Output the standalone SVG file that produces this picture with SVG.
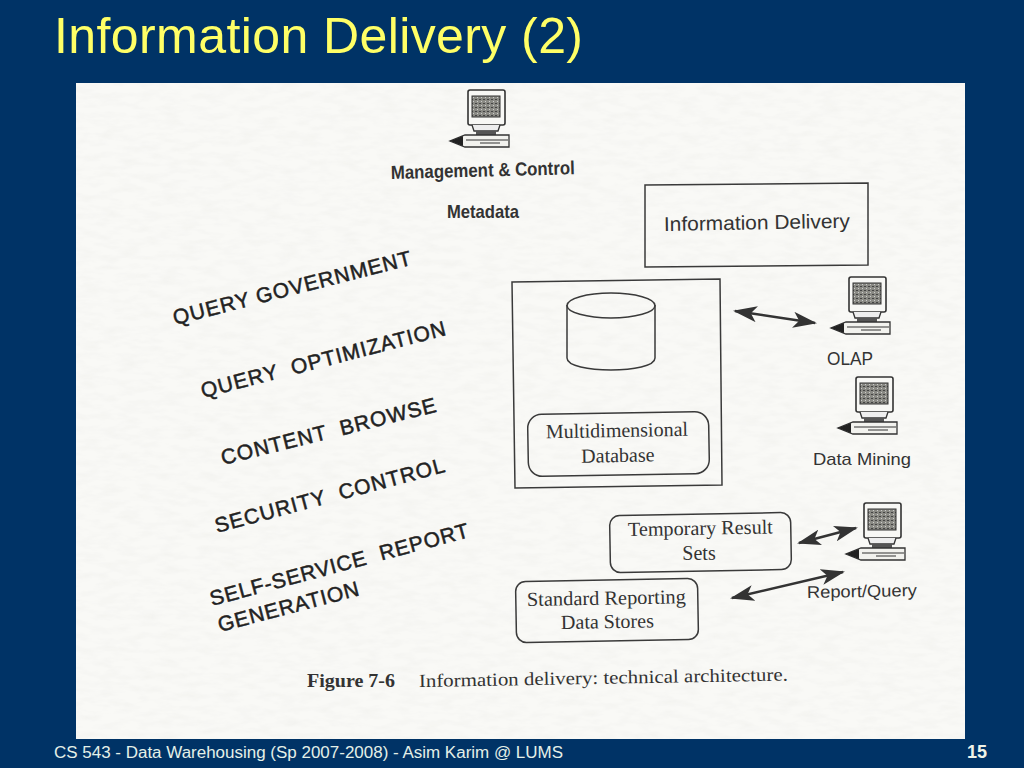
<svg xmlns="http://www.w3.org/2000/svg" width="1024" height="768" viewBox="0 0 1024 768">
<style>
.ln{fill:none;stroke:#3a3a3a;stroke-width:1.500}
.sans{font-family:"Liberation Sans",Arial,sans-serif;fill:#333}
.serif{font-family:"Liberation Serif","Times New Roman",serif;fill:#333}
.caps{font-size:21px;fill:#222;stroke:#222;stroke-width:.5}
.conn{stroke:#333;stroke-width:2.500;fill:none;marker-start:url(#ah);marker-end:url(#ah)}
</style>
<defs>
<marker id="ah" viewBox="0 0 24 16" refX="22" refY="8" markerWidth="24" markerHeight="16" markerUnits="userSpaceOnUse" orient="auto-start-reverse"><path d="M0 0L24 8L0 16L6 8Z" fill="#333"/></marker>
<filter id="paper" x="0" y="0" width="100%" height="100%"><feTurbulence type="fractalNoise" baseFrequency="0.05 0.15" numOctaves="3" seed="7"/><feColorMatrix values="0 0 0 0 .84 0 0 0 0 .84 0 0 0 0 .82 .9 0 0 0 -.36"/><feComposite in2="SourceGraphic" operator="in"/><feMerge><feMergeNode in="SourceGraphic"/><feMergeNode/></feMerge></filter>
<pattern id="scr" width="4" height="4" patternUnits="userSpaceOnUse"><rect width="4" height="4" fill="#8a8a84"/><rect x="1" y="1" width="2" height="1" fill="#444"/><rect x="3" y="3" width="1" height="1" fill="#ccc"/></pattern>
<symbol id="pc" overflow="visible">
<rect x="18" y="0" width="37" height="35" rx="2" fill="#f8f8f5" stroke="#333" stroke-width="1.600"/>
<rect x="22" y="6" width="28" height="21" fill="url(#scr)" stroke="#333"/>
<path d="M22 35L24 41H48L50 35" fill="#eee" stroke="#333" stroke-width="1.300"/>
<path d="M26 41H46V46H26Z" fill="#555"/>
<path d="M15 45H59V57H15L0 51Z" fill="#f2f2ee" stroke="#333" stroke-width="1.300"/>
<path d="M0 51L13 46V56Z" fill="#222"/>
<path d="M16 50H58M30 53H50" stroke="#333" stroke-width="1.200" fill="none"/>
</symbol>
</defs>
<rect id="slide-bg" width="1024" height="768" fill="#003366"/>
<text id="title" x="54" y="53" font-family="Liberation Sans,Arial,sans-serif" font-size="50" fill="#ffff66" textLength="529" lengthAdjust="spacing">Information Delivery (2)</text>
<rect id="scan" x="76" y="83" width="889" height="656" fill="#f9f9f6" filter="url(#paper)"/>

<g id="connectors">
<path class="conn" d="M735 311L815 323"/>
<path class="conn" d="M799 543L856 528"/>
<path class="conn" d="M732 598L843 572"/>
</g>

<g id="pc-management"><use href="#pc" x="450" y="90"/></g>
<g id="label-management"><text class="sans" x="391" y="179" font-size="19" font-weight="bold" textLength="184" lengthAdjust="spacingAndGlyphs" transform="rotate(-1.500 391 179)">Management &amp; Control</text></g>
<g id="label-metadata"><text class="sans" x="447" y="218" font-size="19" font-weight="bold" textLength="72" lengthAdjust="spacingAndGlyphs">Metadata</text></g>

<g id="info-delivery">
<path class="ln" d="M645 185L868 183L868 265L645 267Z"/>
<text class="sans" x="664" y="231" font-size="20" textLength="186" lengthAdjust="spacingAndGlyphs" transform="rotate(-1 664 231)">Information Delivery</text>
</g>

<g id="warehouse-box">
<path class="ln" d="M512 282L720 279L722 485L515 488Z"/>
</g>
<g id="cylinder">
<path class="ln" d="M567 305V358C567 374 655 374 655 358V305"/>
<ellipse class="ln" cx="611" cy="305.500" rx="44" ry="12.500"/>
</g>
<g id="mdb">
<rect class="ln" x="528" y="413" width="181" height="62" rx="14" transform="rotate(-1 618 444)"/>
<text class="serif" x="617" y="437" font-size="20" text-anchor="middle" transform="rotate(-1 617 437)">Multidimensional</text>
<text class="serif" x="618" y="462" font-size="20" text-anchor="middle" transform="rotate(-1 618 462)">Database</text>
</g>

<g id="pc-olap"><use href="#pc" x="831" y="277"/><text class="sans" x="827" y="365" font-size="18" textLength="46" lengthAdjust="spacingAndGlyphs">OLAP</text></g>
<g id="pc-mining"><use href="#pc" x="838" y="377"/><text class="sans" x="813" y="465" font-size="17" textLength="98" lengthAdjust="spacingAndGlyphs">Data Mining</text></g>
<g id="pc-report"><use href="#pc" x="846" y="503"/><text class="sans" x="807" y="598" font-size="17" textLength="110" lengthAdjust="spacingAndGlyphs" transform="rotate(-1 807 598)">Report/Query</text></g>

<g id="temp-results">
<rect class="ln" x="610" y="514" width="181" height="57" rx="10" transform="rotate(-1 700 542)"/>
<text class="serif" x="628" y="536" font-size="20" textLength="145" lengthAdjust="spacingAndGlyphs" transform="rotate(-1 628 536)">Temporary Result</text>
<text class="serif" x="699" y="560" font-size="20" text-anchor="middle">Sets</text>
</g>
<g id="std-reporting">
<rect class="ln" x="516" y="580" width="182" height="61" rx="10" transform="rotate(-1 607 610)"/>
<text class="serif" x="527" y="606" font-size="20" textLength="159" lengthAdjust="spacingAndGlyphs" transform="rotate(-1 527 606)">Standard Reporting</text>
<text class="serif" x="561" y="629" font-size="20" textLength="93" lengthAdjust="spacingAndGlyphs" transform="rotate(-1 561 629)">Data Stores</text>
</g>

<g id="slanted-labels">
<text class="sans caps" transform="translate(175 325) rotate(-14.300)" textLength="245">QUERY GOVERNMENT</text>
<text class="sans caps" transform="translate(203 398) rotate(-14.500)" textLength="252" xml:space="preserve">QUERY  OPTIMIZATION</text>
<text class="sans caps" transform="translate(223 465) rotate(-14)" textLength="221" xml:space="preserve">CONTENT  BROWSE</text>
<text class="sans caps" transform="translate(217 533) rotate(-15)" textLength="237" xml:space="preserve">SECURITY  CONTROL</text>
<text class="sans caps" transform="translate(212 606) rotate(-15)" textLength="267" xml:space="preserve">SELF-SERVICE  REPORT</text>
<text class="sans caps" transform="translate(220 632) rotate(-14.700)" textLength="145">GENERATION</text>
</g>

<g id="caption">
<text class="serif" x="307" y="687" font-size="18" font-weight="bold" textLength="88" lengthAdjust="spacingAndGlyphs">Figure 7-6</text>
<text class="serif" x="419" y="687" font-size="18.500" textLength="369" lengthAdjust="spacingAndGlyphs" transform="rotate(-1 419 687)">Information delivery: technical architecture.</text>
</g>

<text id="footer" x="54" y="758" font-family="Liberation Sans,Arial,sans-serif" font-size="16" fill="#e4f0e8" textLength="509" lengthAdjust="spacingAndGlyphs">CS 543 - Data Warehousing (Sp 2007-2008) - Asim Karim @ LUMS</text>
<text id="page" x="967" y="758" font-family="Liberation Sans,Arial,sans-serif" font-size="18" font-weight="bold" fill="#f0f4e8">15</text>
</svg>
